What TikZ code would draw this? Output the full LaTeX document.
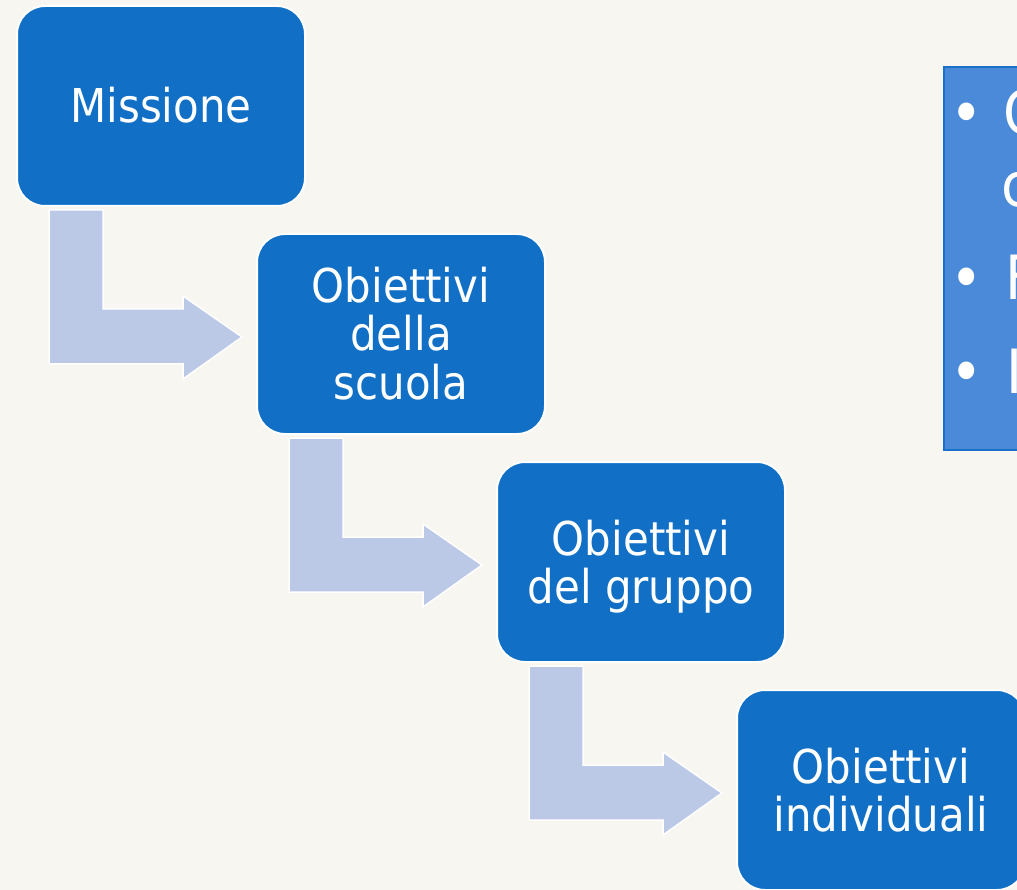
\documentclass[tikz,border=0pt]{standalone}
\usepackage{fontspec}
\setmainfont{DejaVu Sans Condensed}
\usetikzlibrary{calc}
\definecolor{bg}{RGB}{247,246,240}
\definecolor{boxblue}{RGB}{17,112,197}
\definecolor{arrfill}{RGB}{187,201,230}
\definecolor{rbfill}{RGB}{74,138,216}
\definecolor{rbline}{RGB}{26,111,200}
\tikzset{
  stepbox/.style={draw=white, line width=2pt, fill=boxblue, rounded corners=28pt,
    minimum width=288pt, minimum height=200pt, inner sep=0pt},
  boxtxt/.style={text=white, font=\fontsize{46.6}{48.5}\selectfont, inner sep=0pt, anchor=base},
  arr/.style={fill=arrfill, draw=white, line width=1.5pt, line join=miter},
  rtxt/.style={text=white, font=\fontsize{61}{70}\selectfont, inner sep=0pt, anchor=base west},
  rbul/.style={text=white, font=\fontsize{61}{70}\selectfont, inner sep=0pt, anchor=base},
}
\newcommand\bentarr[2]{%
  \path ($(#1.south west)+(33,3)$) coordinate (#1a)
        ($(#1.south west)+(87,3)$) coordinate (#1b)
        ($(#2.west)+(-73,-25)$) coordinate (#1c)
        ($(#2.west)+(-73,-38)$) coordinate (#1d)
        ($(#2.west)+(-14,3)$) coordinate (#1e)
        ($(#2.west)+(-73,45)$) coordinate (#1f)
        ($(#2.west)+(-73,30)$) coordinate (#1g);
  \draw[arr] (#1a) -- (#1b) -- (#1b |- #1c) -- (#1c) -- (#1d) -- (#1e) -- (#1f)
    -- (#1g) -- (#1a |- #1g) -- cycle;
}
\begin{document}
\begin{tikzpicture}[x=1pt, y=-1pt]
\useasboundingbox (0,0) rectangle (1017,890);
\fill[bg] (0,0) rectangle (1017,890);
\clip (0,0) rectangle (1017,890);

% right box (partially visible)
\node[draw=rbline, fill=rbfill, line width=2pt, minimum width=110pt, minimum height=383pt,
  inner sep=0pt, anchor=north west] (rb) at (943,66) {};
\node[rbul] (rb1) at (967,135) {•};
\node[rtxt] (rt1) at (1003,135) {C};
\node[rtxt] (rt2) at (1001,207) {c};
\node[rbul] (rb2) at (967,300) {•};
\node[rtxt] (rt3) at (1005,300) {F};
\node[rbul] (rb3) at (967,393) {•};
\node[rtxt] (rt4) at (1006,393) {I};

% steps
\node[stepbox] (b1) at (161,106) {};
\node[stepbox] (b2) at (401,334) {};
\node[stepbox] (b3) at (641,562) {};
\node[stepbox] (b4) at (881,790) {};

\bentarr{b1}{b2}
\bentarr{b2}{b3}
\bentarr{b3}{b4}

\node[boxtxt] (t1) at (161,123) {Missione};
\node[boxtxt] (t2a) at (401,302.5) {Obiettivi};
\node[boxtxt] (t2b) at (401,351) {della};
\node[boxtxt] (t2c) at (401,399.5) {scuola};
\node[boxtxt] (t3a) at (641,555) {Obiettivi};
\node[boxtxt] (t3b) at (641,603.5) {del gruppo};
\node[boxtxt] (t4a) at (881,783) {Obiettivi};
\node[boxtxt] (t4b) at (881,831.5) {individuali};
\end{tikzpicture}
\end{document}
